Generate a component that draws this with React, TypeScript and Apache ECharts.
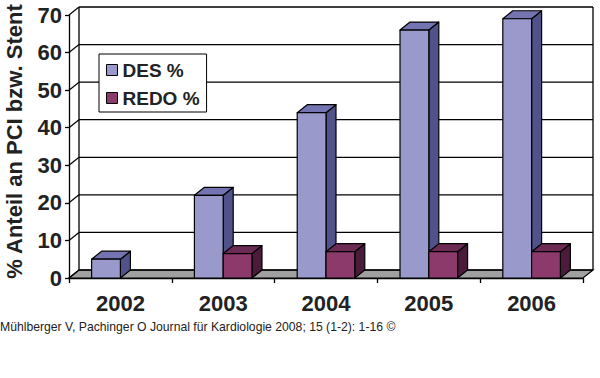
import React, { useEffect, useRef } from "react";
import * as echarts from "echarts";

const categories = ["2002", "2003", "2004", "2005", "2006"];
const desValues: (number | null)[] = [5, 22, 44, 66, 69];
const redoValues: (number | null)[] = [null, 6.5, 7, 7, 7];
const yTicks = [0, 10, 20, 30, 40, 50, 60, 70];
const seriesNames = ["DES %", "REDO %"];
const yTitle = "% Anteil an PCI bzw. Stent";
const sourceText =
  "Mühlberger V, Pachinger O Journal für Kardiologie 2008; 15 (1-2): 1-16 ©";

const FONT = "'Liberation Sans', Arial, sans-serif";
const DX = 10;
const DY = -8;
const Y_MAX = 70;

const desColors = { front: "#9999cc", top: "#7474b2", side: "#52528a" };
const redoColors = { front: "#8c3a6c", top: "#6c2b54", side: "#4a1c3a" };

const makeBar = (left: boolean, colors: { front: string; top: string; side: string }) =>
  (params: any, api: any) => {
    const v = api.value(1);
    if (v == null || isNaN(v)) return null;
    const idx = api.value(0);
    const base = api.coord([idx, 0]);
    const top = api.coord([idx, v]);
    const band = api.size([1, 0])[0];
    const bw = band * 0.28;
    const c = base[0];
    const xl = left ? c - bw : c;
    const xr = xl + bw;
    const yb = base[1];
    const yt = top[1];
    const st = { stroke: "#000", lineWidth: 1.2, lineJoin: "round" };
    return {
      type: "group",
      children: [
        {
          type: "polygon",
          shape: { points: [[xr, yb], [xr, yt], [xr + DX, yt + DY], [xr + DX, yb + DY]] },
          style: { fill: colors.side, ...st },
        },
        {
          type: "polygon",
          shape: { points: [[xl, yt], [xl + DX, yt + DY], [xr + DX, yt + DY], [xr, yt]] },
          style: { fill: colors.top, ...st },
        },
        {
          type: "rect",
          shape: { x: xl, y: yt, width: bw, height: yb - yt },
          style: { fill: colors.front, ...st },
        },
      ],
    };
  };

const renderWall = (params: any, api: any) => {
  const v = api.value(1);
  const cs = params.coordSys;
  const left = cs.x;
  const right = cs.x + cs.width;
  const y = api.coord([0, v])[1];
  const line = (x1: number, y1: number, x2: number, y2: number) => ({
    type: "line",
    shape: { x1, y1, x2, y2 },
    style: { stroke: "#000", lineWidth: 1.3 },
  });
  const children: any[] = [];
  if (v === 0) {
    const yTop = api.coord([0, Y_MAX])[1];
    children.push({
      type: "polygon",
      shape: { points: [[left, y], [left + DX, y + DY], [right + DX, y + DY], [right, y]] },
      style: { fill: "#a0a0a0", stroke: "#000", lineWidth: 1.2 },
    });
    children.push(line(left + DX, yTop + DY, left + DX, y + DY));
    children.push(line(right + DX, yTop + DY, right + DX, y + DY));
  }
  children.push(line(left, y, left + DX, y + DY));
  children.push(line(left + DX, y + DY, right + DX, y + DY));
  return { type: "group", children };
};

export default function App() {
  const ref = useRef<HTMLDivElement>(null);
  useEffect(() => {
    if (!ref.current) return;
    const chart = echarts.init(ref.current, undefined, { renderer: "svg" });
    chart.setOption({
      animation: false,
      backgroundColor: "#fff",
      grid: { left: 69, right: 17, top: 15, bottom: 100, containLabel: false, outerBoundsMode: "none" },
      legend: {
        data: seriesNames,
        orient: "vertical",
        left: 99,
        top: 54,
        backgroundColor: "#fff",
        borderColor: "#000",
        borderWidth: 1,
        padding: [6, 7, 4, 7],
        itemGap: 8,
        itemWidth: 11,
        itemHeight: 11,
        icon: "rect",
        itemStyle: { borderColor: "#000", borderWidth: 1 },
        textStyle: { fontSize: 19, fontWeight: "bold", fontFamily: FONT, color: "#222", lineHeight: 20 },
      },
      xAxis: {
        type: "category",
        data: categories,
        boundaryGap: true,
        axisLine: { lineStyle: { color: "#000", width: 1.3 } },
        axisTick: { show: true, length: 5, lineStyle: { color: "#000", width: 1.3 } },
        axisLabel: { fontSize: 22, fontWeight: "bold", fontFamily: FONT, color: "#222", margin: 14 },
        splitLine: { show: false },
      },
      yAxis: {
        type: "value",
        min: 0,
        max: Y_MAX,
        interval: 10,
        name: yTitle,
        nameLocation: "middle",
        nameRotate: 90,
        nameGap: 44,
        nameTextStyle: {
          fontSize: 22,
          fontWeight: "bold",
          fontFamily: FONT,
          color: "#222",
          padding: [0, 0, 0, 10],
        },
        axisLine: { show: true, lineStyle: { color: "#000", width: 1.3 } },
        axisTick: { show: true, length: 4, lineStyle: { color: "#000", width: 1.3 } },
        axisLabel: { fontSize: 22, fontWeight: "bold", fontFamily: FONT, color: "#222", margin: 7 },
        splitLine: { show: false },
      },
      graphic: [
        {
          type: "text",
          left: 0,
          top: 321,
          style: { text: sourceText, fontSize: 12.2, fontFamily: FONT, fill: "#222" },
        },
      ],
      series: [
        {
          type: "custom",
          name: "wall",
          z: 1,
          silent: true,
          renderItem: renderWall,
          data: yTicks.map((t) => [0, t]),
        },
        {
          type: "custom",
          name: seriesNames[0],
          z: 2,
          itemStyle: { color: desColors.front },
          renderItem: makeBar(true, desColors),
          data: desValues.map((v, i) => [i, v]).filter((d) => d[1] != null),
        },
        {
          type: "custom",
          name: seriesNames[1],
          z: 3,
          itemStyle: { color: redoColors.front },
          renderItem: makeBar(false, redoColors),
          data: redoValues.map((v, i) => [i, v]).filter((d) => d[1] != null),
        },
      ],
    });
    return () => chart.dispose();
  }, []);
  return (
    <div
      ref={ref}
      style={{ position: "absolute", left: 0, top: 0, width: 600, height: 378 }}
    />
  );
}
